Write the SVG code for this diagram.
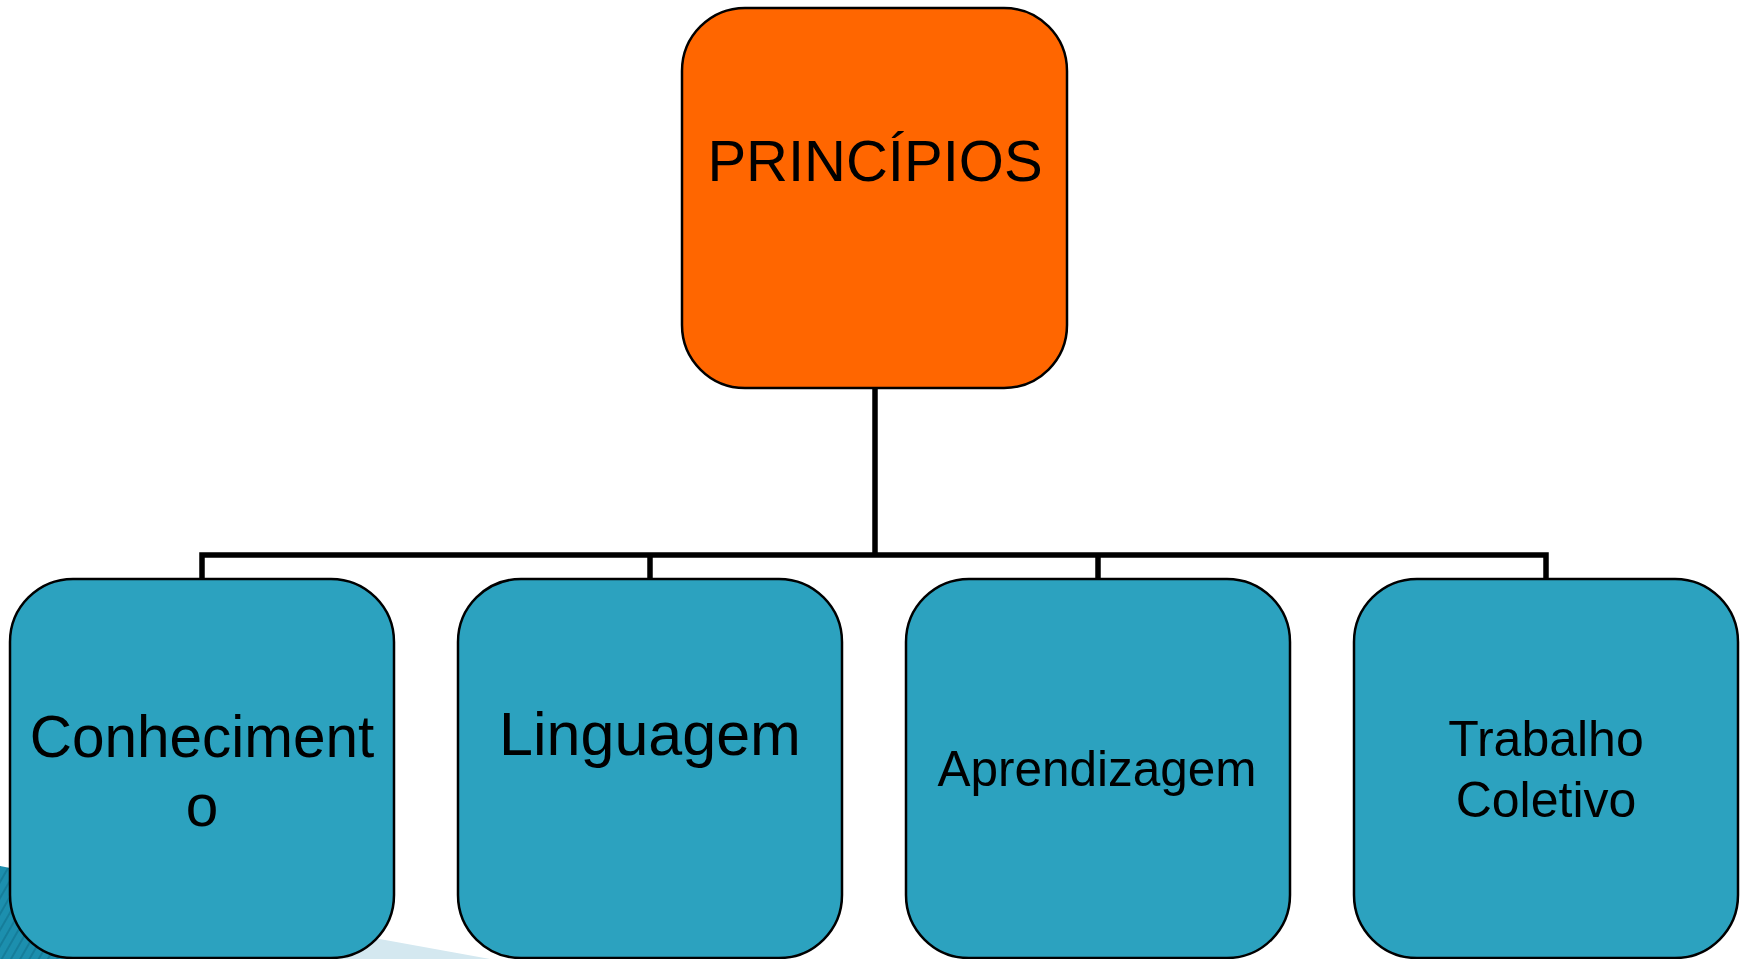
<svg xmlns="http://www.w3.org/2000/svg" width="1748" height="959" viewBox="0 0 1748 959">
<style>
.box{stroke:#000;stroke-width:2.5}
.top{fill:#FF6600}
.leaf{fill:#2CA2BF}
.lbl{font-family:"Liberation Sans",Arial,sans-serif;fill:#000;text-anchor:middle}
.conn{fill:none;stroke:#000;stroke-width:5.5}
</style>
<defs>
<pattern id="stripes" width="8" height="8" patternUnits="userSpaceOnUse" patternTransform="rotate(30)">
<rect width="8" height="8" fill="#1C8FAE"/>
<rect width="2" height="8" fill="#157D9A"/>
</pattern>
</defs>
<rect width="1748" height="959" fill="#fff"/>
<g id="decoration">
<polygon points="0,870 490,959 0,959" fill="#D4E8F0"/>
<polygon points="0,866 200,905 90,959 0,959" fill="url(#stripes)"/>
</g>
<g id="connectors">
<line class="conn" x1="875" y1="388" x2="875" y2="555"/>
<polyline class="conn" points="202,579 202,555 1546,555 1546,579"/>
<line class="conn" x1="650" y1="555" x2="650" y2="579"/>
<line class="conn" x1="1098" y1="555" x2="1098" y2="579"/>
</g>
<g id="node-principios">
<rect class="box top" x="682" y="8" width="385" height="380" rx="63" ry="63"/>
<text class="lbl" x="875" y="181" font-size="58">PRINCÍPIOS</text>
</g>
<g id="node-conhecimento">
<rect class="box leaf" x="10" y="579" width="384" height="379" rx="63" ry="63"/>
<text class="lbl" x="202" y="757" font-size="58.5">Conheciment</text>
<text class="lbl" x="202" y="826" font-size="58.5">o</text>
</g>
<g id="node-linguagem">
<rect class="box leaf" x="458" y="579" width="384" height="379" rx="63" ry="63"/>
<text class="lbl" x="650" y="755" font-size="61">Linguagem</text>
</g>
<g id="node-aprendizagem">
<rect class="box leaf" x="906" y="579" width="384" height="379" rx="63" ry="63"/>
<text class="lbl" x="1097" y="786" font-size="49.5">Aprendizagem</text>
</g>
<g id="node-trabalho">
<rect class="box leaf" x="1354" y="579" width="384" height="379" rx="63" ry="63"/>
<text class="lbl" x="1546" y="756" font-size="50">Trabalho</text>
<text class="lbl" x="1546" y="817" font-size="50">Coletivo</text>
</g>
</svg>
